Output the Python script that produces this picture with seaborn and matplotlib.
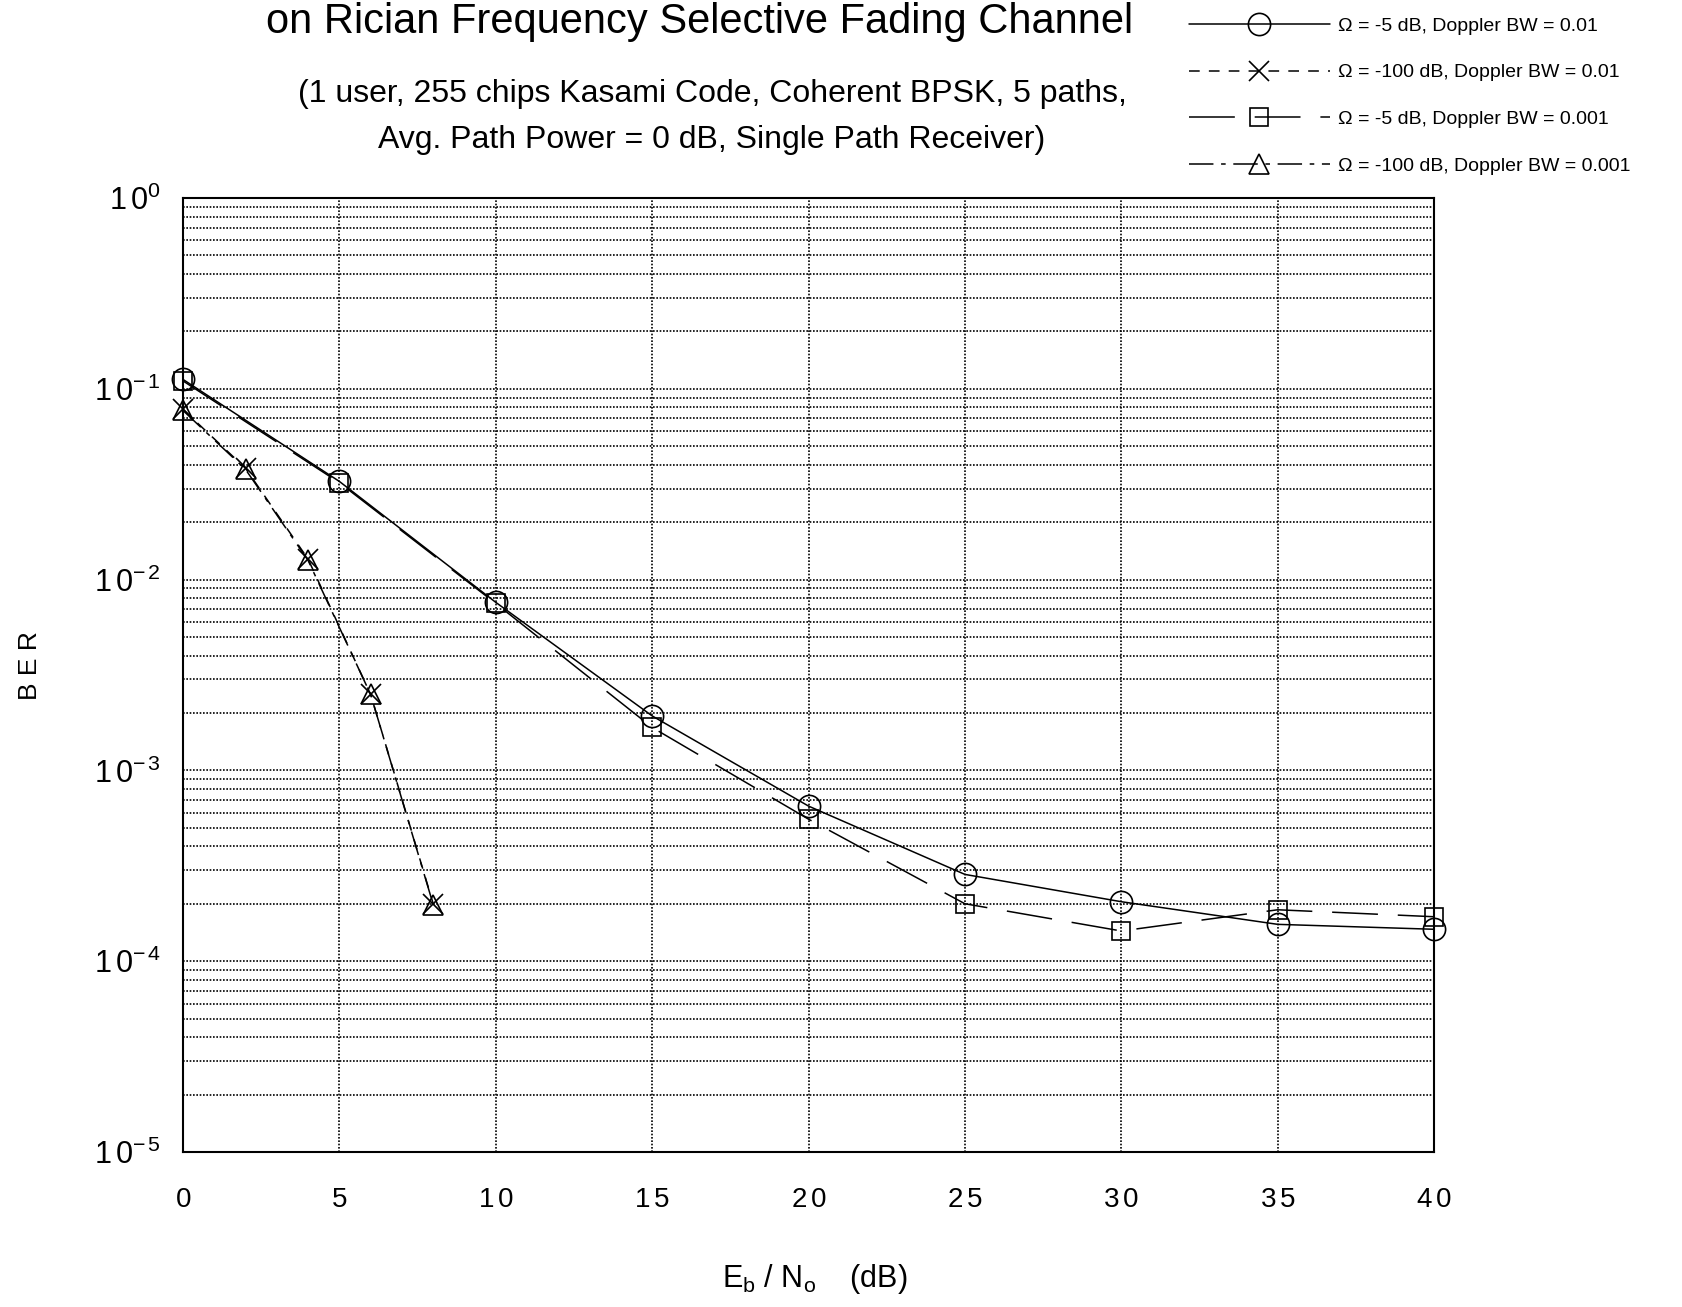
import numpy as np
import pandas as pd
import matplotlib
matplotlib.use("Agg")
import matplotlib.pyplot as plt
import seaborn as sns
from matplotlib.ticker import FixedLocator, FuncFormatter, LogLocator, NullFormatter

# Eb/No (dB) and measured BER for each channel configuration
ebno_a = [0, 5, 10, 15, 20, 25, 30, 35, 40]
ber_a = [0.112, 0.0327, 0.0076, 0.00193, 6.5e-4, 2.85e-4, 2.05e-4, 1.56e-4, 1.47e-4]

ebno_b = [0, 2, 4, 6, 8]
ber_b = [0.078, 0.0383, 0.0128, 0.0025, 2.0e-4]

ebno_c = [0, 5, 10, 15, 20, 25, 30, 35, 40]
ber_c = [0.110, 0.0322, 0.0075, 0.00168, 5.55e-4, 2.0e-4, 1.44e-4, 1.86e-4, 1.71e-4]

ebno_d = [0, 2, 4, 6, 8]
ber_d = [0.077, 0.0378, 0.0126, 0.0025, 1.98e-4]

series_labels = [
    "\u03a9 = -5 dB, Doppler BW = 0.01",
    "\u03a9 = -100 dB, Doppler BW = 0.01",
    "\u03a9 = -5 dB, Doppler BW = 0.001",
    "\u03a9 = -100 dB, Doppler BW = 0.001",
]
x_ticks = [0, 5, 10, 15, 20, 25, 30, 35, 40]
y_decades = [1e-5, 1e-4, 1e-3, 1e-2, 1e-1, 1e0]

title_text = "on Rician Frequency Selective Fading Channel"
subtitle_1 = "(1 user, 255 chips Kasami Code, Coherent BPSK, 5 paths,"
subtitle_2 = "Avg. Path Power = 0 dB, Single Path Receiver)"

frames = []
for lab, xs, ys in zip(series_labels,
                       [ebno_a, ebno_b, ebno_c, ebno_d],
                       [ber_a, ber_b, ber_c, ber_d]):
    frames.append(pd.DataFrame({"ebno": xs, "ber": ys, "series": lab}))
df = pd.concat(frames, ignore_index=True)

sns.set_theme(style="white")
plt.rcParams["font.family"] = ["Liberation Sans", "DejaVu Sans"]
plt.rcParams["text.color"] = "black"
plt.rcParams["xtick.color"] = "black"
plt.rcParams["ytick.color"] = "black"
plt.rcParams["mathtext.default"] = "regular"
plt.rcParams["mathtext.fontset"] = "custom"
plt.rcParams["mathtext.rm"] = "Liberation Sans"
plt.rcParams["mathtext.it"] = "Liberation Sans"

fig = plt.figure(figsize=(16.82, 13.07), dpi=100)
ax = fig.add_axes([0.1088, 0.1186, 0.8526 - 0.1088, 0.8485 - 0.1186])

markers = {series_labels[0]: "o", series_labels[1]: "X",
           series_labels[2]: "s", series_labels[3]: "^"}
dashes = {series_labels[0]: "",
          series_labels[1]: (7, 6),
          series_labels[2]: (30, 13),
          series_labels[3]: (16, 5, 3, 5)}
sizes = {"o": 16, "x": 14, "s": 13, "^": 14}

sns.lineplot(data=df, x="ebno", y="ber", style="series",
             style_order=series_labels, markers=markers, dashes=dashes,
             color="black", linewidth=1.1, estimator=None, sort=False,
             legend=False, ax=ax)

ax.set_yscale("log")
ax.set_xlim(0, 40)
ax.set_ylim(1e-5, 1)

lines = ax.get_lines()[:4]
for ln in lines:
    if ln.get_marker() == "X":
        ln.set_marker("x")
    ln.set_color("black")
    ln.set_markerfacecolor("none")
    ln.set_markeredgecolor("black")
    ln.set_markeredgewidth(1.2)
    ln.set_markersize(sizes[ln.get_marker()])
    ln.set_clip_on(False)
    ln.set_zorder(3)


def spaced(s):
    # letter-spaced digits for the tick labels
    return r"\,".join(s)


# Dotted grid on every decade and sub-decade, and at each x tick
ax.xaxis.set_major_locator(FixedLocator(x_ticks))
ax.xaxis.set_major_formatter(FuncFormatter(
    lambda v, p: r"$\mathregular{%s}$" % spaced(str(int(round(v))))))
ax.yaxis.set_major_locator(FixedLocator(y_decades))
ax.yaxis.set_minor_locator(LogLocator(base=10, subs=np.arange(2, 10), numticks=100))
ax.yaxis.set_minor_formatter(NullFormatter())
ax.yaxis.set_major_formatter(FuncFormatter(
    lambda v, p: r"$\mathregular{1\,0^{%s}}$" % spaced(str(int(round(np.log10(v)))))))
ax.set_axisbelow(True)
grid_style = dict(color="black", linestyle=(0, (1.0, 1.0)), linewidth=1.2)
ax.grid(True, which="both", axis="y", **grid_style)
ax.grid(True, which="major", axis="x", **grid_style)

for s in ax.spines.values():
    s.set_color("black")
    s.set_linewidth(1.5)

ax.tick_params(axis="x", which="both", length=0, pad=25, labelsize=20, colors="black")
ax.tick_params(axis="y", which="both", length=0, pad=16, labelsize=22, colors="black")
ax.set_xlabel("")
ax.set_ylabel("")

# Titles
narrow = ["Liberation Sans Narrow", "Liberation Sans", "DejaVu Sans"]
fig.text(0.416, 0.9832, title_text, ha="center", va="center",
         fontsize=30, family=narrow)
fig.text(0.4233, 0.9279, subtitle_1, ha="center", va="center",
         fontsize=23, family=narrow)
fig.text(0.4233, 0.8927, subtitle_2, ha="center", va="center",
         fontsize=23, family=narrow)

# Axis labels
fig.text(0.0178, 0.491, "B E R", rotation=90, ha="center", va="center", fontsize=19)
fig.text(0.4845, 0.0153, r"$\mathregular{E_b\ /\ N_o}$    (dB)", ha="center",
         va="baseline", fontsize=22)

fig.legend(lines, series_labels, loc="upper left",
           bbox_to_anchor=(1189 / 1682, 1 - 17 / 1307), frameon=False,
           fontsize=14, handlelength=7.25, handletextpad=0.4,
           labelspacing=1.5, borderpad=0, borderaxespad=0, numpoints=1)

fig.savefig("out.png", dpi=100)
